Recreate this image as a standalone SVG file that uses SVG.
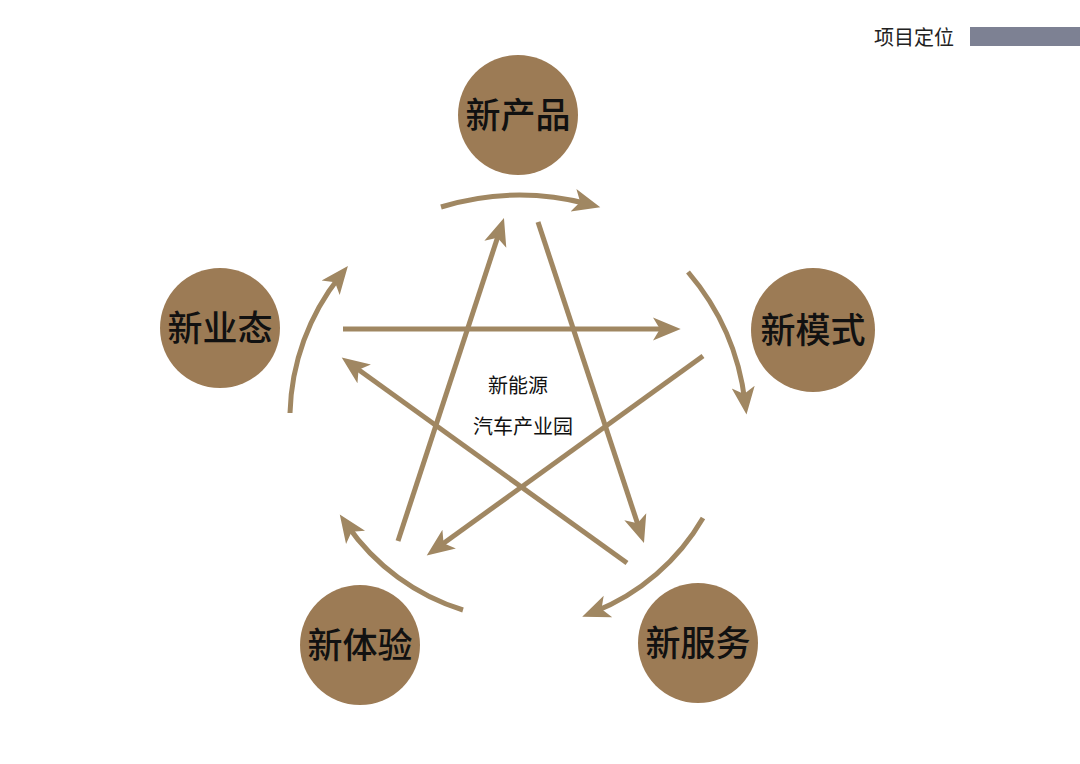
<svg xmlns="http://www.w3.org/2000/svg" width="1080" height="764" viewBox="0 0 1080 764">
<style>
.node{fill:#9c7b55}
.lbl{font-family:"Noto Sans CJK SC","Noto Sans",sans-serif;font-size:35px;font-weight:500;fill:#111;text-anchor:middle}
.ctr{font-family:"Noto Sans CJK SC","Noto Sans",sans-serif;font-size:20px;fill:#111;text-anchor:middle}
.ln{fill:none;stroke:#a08762;stroke-width:5;marker-end:url(#ah)}
</style>
<defs>
<marker id="ah" markerUnits="userSpaceOnUse" markerWidth="30" markerHeight="30" viewBox="0 -11 26 22" refX="13" refY="0" orient="auto">
<path d="M0,-10 L24,0 L0,10 L6,0 Z" fill="#a08762"/>
</marker>
</defs>
<rect width="1080" height="764" fill="#fff"/>
<g id="header">
<text x="914" y="45" font-family="'Noto Sans CJK SC','Noto Sans',sans-serif" font-size="20" fill="#222" text-anchor="middle">项目定位</text>
<rect x="970" y="27" width="110" height="19" fill="#7d8193"/>
</g>
<g id="node-product"><circle class="node" cx="518" cy="115" r="60"/><text class="lbl" x="518" y="128">新产品</text></g>
<g id="node-mode"><circle class="node" cx="813" cy="330" r="62"/><text class="lbl" x="813" y="343">新模式</text></g>
<g id="node-service"><circle class="node" cx="698" cy="643" r="60"/><text class="lbl" x="698" y="656">新服务</text></g>
<g id="node-experience"><circle class="node" cx="360" cy="645" r="60"/><text class="lbl" x="360" y="658">新体验</text></g>
<g id="node-format"><circle class="node" cx="220" cy="328" r="60"/><text class="lbl" x="220" y="341">新业态</text></g>
<g id="center"><text class="ctr" x="518" y="393">新能源</text><text class="ctr" x="523" y="434">汽车产业园</text></g>
<g id="connectors">
<path class="ln" d="M441,207 A270,270 0 0 1 588,204"/>
<path class="ln" d="M688,272 A245,245 0 0 1 745,402"/>
<path class="ln" d="M703,518 A220,220 0 0 1 594,612"/>
<path class="ln" d="M463,610 A220,220 0 0 1 347,525"/>
<path class="ln" d="M290,413 A230,230 0 0 1 340,276"/>
<path class="ln" d="M343,329 L668,329"/>
<path class="ln" d="M538,222 L640,531"/>
<path class="ln" d="M398,541 L500,230"/>
<path class="ln" d="M703,356 L437,548"/>
<path class="ln" d="M627,563 L352,365"/>
</g>
</svg>
